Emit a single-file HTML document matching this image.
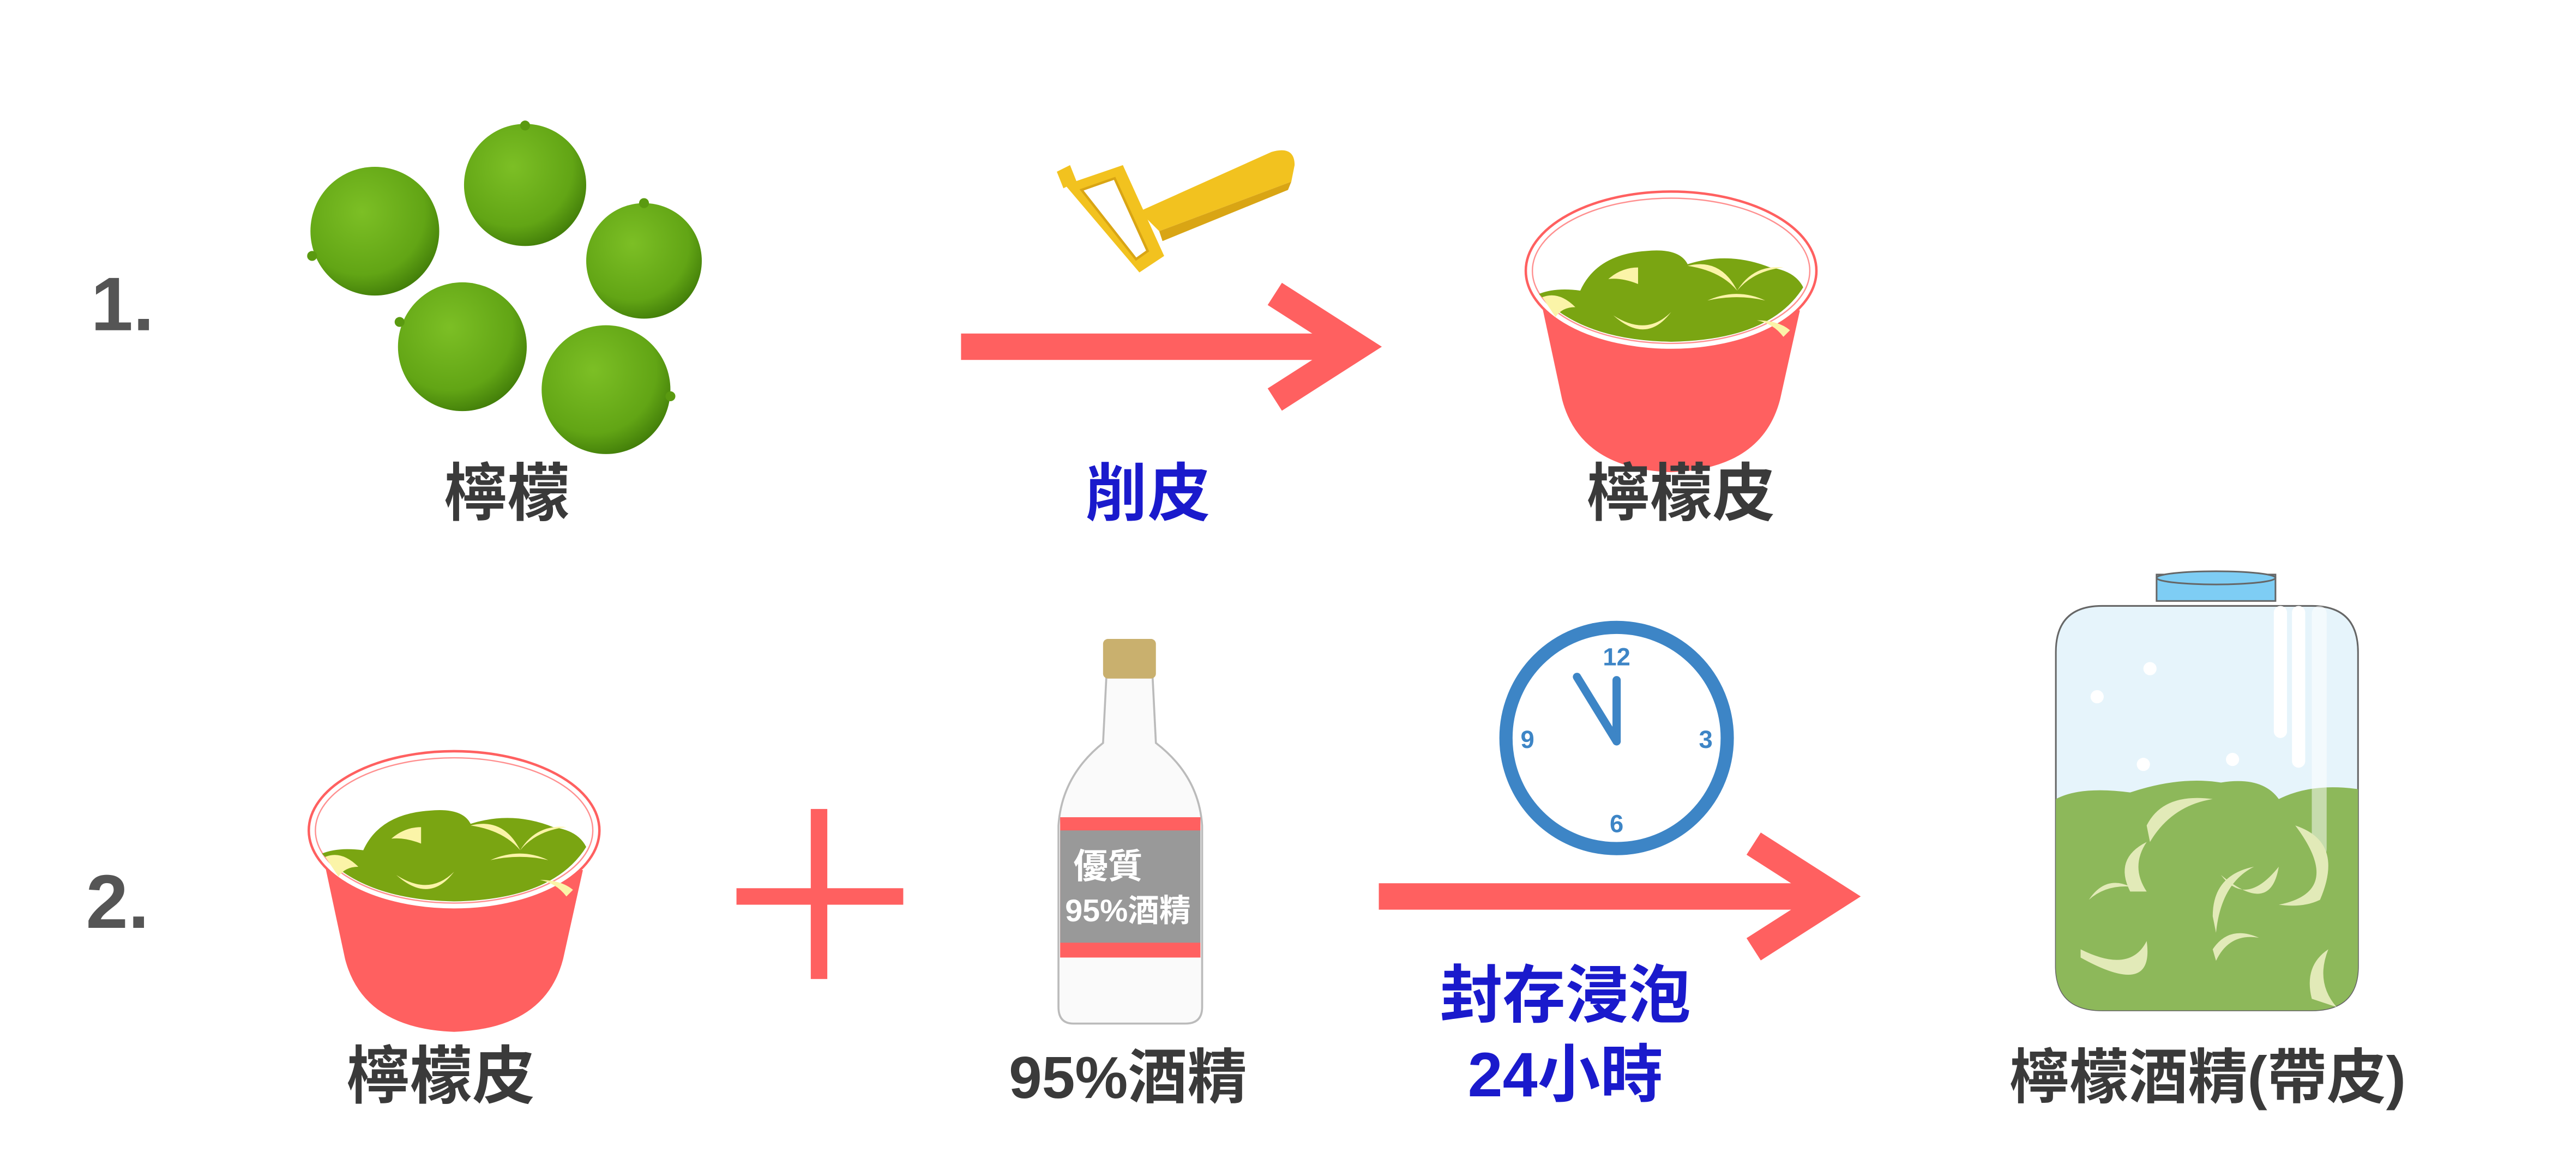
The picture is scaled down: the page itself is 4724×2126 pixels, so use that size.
<!DOCTYPE html>
<html><head><meta charset="utf-8"><style>
html,body{margin:0;padding:0;background:#fff}
svg{display:block}
text{font-family:"Liberation Sans","Noto Sans CJK TC",sans-serif;font-weight:bold}
</style></head><body>
<svg width="4724" height="2126" viewBox="0 0 1560 702" xmlns="http://www.w3.org/2000/svg">
<defs>
<radialGradient id="lime" cx="0.4" cy="0.35" r="0.7">
<stop offset="0" stop-color="#7cbf25"/><stop offset="0.7" stop-color="#62a515"/><stop offset="1" stop-color="#3f7a08"/>
</radialGradient>
<g id="bowl">
<path d="M-78 22 L-66 78 Q-55 120 0 122 Q55 120 66 78 L78 24 Z" fill="#ff6060"/>
<ellipse cx="0" cy="0" rx="88" ry="48" fill="#fff" stroke="#ff6060" stroke-width="1.5"/>
<ellipse cx="0" cy="0" rx="84" ry="44" fill="none" stroke="#ff9090" stroke-width="0.8"/>
<path d="M-80 14 Q-70 10 -55 12 Q-45 -10 -15 -12 Q5 -14 10 -4 Q35 -12 60 -2 Q75 0 80 10 Q60 42 0 43 Q-55 42 -80 14 Z" fill="#7aa512"/>
<path d="M-78 16 Q-68 12 -58 22 Q-66 22 -70 28 Z" fill="#fbf4a8"/>
<path d="M-38 5 Q-30 -2 -20 -2 L-20 8 Q-30 4 -38 5 Z" fill="#fbf4a8"/>
<path d="M10 -3 Q30 -8 40 12 Q30 0 10 -3 Z" fill="#fbf4a8"/>
<path d="M40 12 Q50 -4 68 -2 Q50 0 40 12 Z" fill="#fbf4a8"/>
<path d="M-35 27 Q-15 45 0 25 Q-15 40 -35 27 Z" fill="#fbf4a8"/>
<path d="M22 18 Q40 10 57 18 Q40 14 22 18 Z" fill="#fbf4a8"/>
<path d="M52 30 Q65 30 72 36 L68 40 Q62 32 52 30 Z" fill="#fbf4a8"/>
</g>
</defs>

<!-- Row 1 -->
<text x="55" y="200" font-size="46" fill="#555" font-weight="normal">1.</text>
<circle cx="227" cy="140" r="39" fill="url(#lime)"/><circle cx="189" cy="155" r="3" fill="#5a9a10"/>
<circle cx="318" cy="112" r="37" fill="url(#lime)"/><circle cx="318" cy="76" r="3" fill="#5a9a10"/>
<circle cx="390" cy="158" r="35" fill="url(#lime)"/><circle cx="390" cy="123" r="3" fill="#5a9a10"/>
<circle cx="280" cy="210" r="39" fill="url(#lime)"/><circle cx="242" cy="195" r="3" fill="#5a9a10"/>
<circle cx="367" cy="236" r="39" fill="url(#lime)"/><circle cx="406" cy="240" r="3" fill="#5a9a10"/>
<text x="307" y="312" font-size="38" fill="#3a3a3a" text-anchor="middle">檸檬</text>

<!-- peeler -->
<path d="M690 128 L770 92 Q784 88 784 100 L782 110 L702 140 Z" fill="#f2c21f"/>
<path d="M702 140 L782 110 L780 115 L704 146 Z" fill="#d9a514"/>
<path d="M645 112 L680 100 L705 155 L690 165 Z" fill="#f2c21f"/>
<path d="M655 115 L675 108 L695 152 L688 157 Z" fill="#fff" stroke="#d9a514" stroke-width="1.5"/>
<path d="M640 104 L648 100 L652 110 L644 114 Z" fill="#f2c21f"/>

<rect x="582" y="202" width="236" height="16" fill="#ff6060"/>
<polyline points="772,178 822,210 772,242" fill="none" stroke="#ff6060" stroke-width="16" stroke-linejoin="miter"/>
<text x="695" y="312" font-size="38" fill="#1a1acc" text-anchor="middle">削皮</text>

<use href="#bowl" x="1012" y="164"/>
<text x="1018" y="312" font-size="38" fill="#3a3a3a" text-anchor="middle">檸檬皮</text>

<!-- Row 2 -->
<text x="52" y="562" font-size="46" fill="#555" font-weight="normal">2.</text>
<use href="#bowl" x="275" y="503"/>
<text x="267" y="665" font-size="38" fill="#3a3a3a" text-anchor="middle">檸檬皮</text>

<rect x="446" y="538" width="101" height="10" fill="#ff6060"/>
<rect x="491" y="490" width="10" height="103" fill="#ff6060"/>

<!-- bottle -->
<path d="M670 410 L698 410 L700 450 Q726 470 728 500 L728 610 Q728 620 718 620 L650 620 Q641 620 641 610 L641 500 Q643 470 668 450 Z" fill="#fafafa" stroke="#bbb" stroke-width="1.2"/>
<rect x="668" y="387" width="32" height="24" rx="3" fill="#c9b06e"/>
<rect x="642" y="495" width="85" height="85" fill="#ff6060"/>
<rect x="642" y="503" width="85" height="68" fill="#999"/>
<text x="650" y="532" font-size="21" fill="#fff" font-weight="normal">優質</text>
<text x="645" y="558" font-size="19" fill="#fff" font-weight="normal">95%酒精</text>
<text x="683" y="665" font-size="36" fill="#3a3a3a" text-anchor="middle">95%酒精</text>

<!-- clock -->
<circle cx="979" cy="447" r="67" fill="#fff" stroke="#3d85c6" stroke-width="8"/>
<text x="979" y="403" font-size="15" fill="#3d85c6" text-anchor="middle" font-weight="normal">12</text>
<text x="1033" y="453" font-size="15" fill="#3d85c6" text-anchor="middle" font-weight="normal">3</text>
<text x="979" y="504" font-size="15" fill="#3d85c6" text-anchor="middle" font-weight="normal">6</text>
<text x="925" y="453" font-size="15" fill="#3d85c6" text-anchor="middle" font-weight="normal">9</text>
<line x1="979" y1="449" x2="979" y2="412" stroke="#3d85c6" stroke-width="5" stroke-linecap="round"/>
<line x1="979" y1="449" x2="955" y2="410" stroke="#3d85c6" stroke-width="5" stroke-linecap="round"/>

<rect x="835" y="535" width="276" height="16" fill="#ff6060"/>
<polyline points="1062,511 1112,543 1062,575" fill="none" stroke="#ff6060" stroke-width="16" stroke-linejoin="miter"/>
<text x="948" y="616" font-size="38" fill="#1a1acc" text-anchor="middle">封存浸泡</text>
<text x="948" y="664" font-size="38" fill="#1a1acc" text-anchor="middle">24小時</text>

<!-- jar -->
<rect x="1306" y="348" width="72" height="16" fill="#7ecdf4" stroke="#666" stroke-width="1"/>
<ellipse cx="1342" cy="350" rx="36" ry="4" fill="#7ecdf4" stroke="#666" stroke-width="1"/>
<path d="M1245 395 Q1245 367 1273 367 L1400 367 Q1428 367 1428 395 L1428 585 Q1428 612 1400 612 L1273 612 Q1245 612 1245 585 Z" fill="#e6f4fb" stroke="#666" stroke-width="1"/>
<path d="M1245 484 Q1260 476 1290 480 Q1320 470 1345 474 Q1370 470 1380 484 Q1400 474 1428 478 L1428 585 Q1428 612 1400 612 L1273 612 Q1245 612 1245 585 Z" fill="#8db85a"/>
<rect x="1377" y="367" width="8" height="80" rx="4" fill="#fff"/>
<rect x="1388" y="367" width="8" height="98" rx="4" fill="#fff"/>
<rect x="1400" y="367" width="9" height="152" rx="4.5" fill="#fff" opacity="0.5"/>
<circle cx="1270" cy="422" r="4" fill="#fff"/><circle cx="1302" cy="405" r="4" fill="#fff"/>
<circle cx="1298" cy="463" r="4" fill="#fff"/><circle cx="1352" cy="460" r="4" fill="#fff"/>
<g fill="#e2eab8">
<path d="M1300 500 Q1310 480 1340 484 Q1315 488 1302 510 Z"/>
<path d="M1290 540 Q1280 520 1300 510 Q1290 525 1300 540 Z"/>
<path d="M1345 530 Q1360 550 1380 525 Q1375 555 1345 530 Z"/>
<path d="M1390 500 Q1420 510 1405 545 Q1395 550 1380 548 Q1420 540 1390 500 Z"/>
<path d="M1260 575 Q1290 590 1300 570 Q1305 605 1260 580 Z"/>
<path d="M1340 575 Q1350 560 1368 568 Q1350 565 1342 582 Z"/>
<path d="M1400 605 Q1395 585 1410 575 Q1402 595 1415 610 Z"/>
<path d="M1265 545 Q1275 530 1290 537 Q1275 536 1265 545 Z"/>
<path d="M1340 555 Q1340 530 1365 525 Q1345 535 1342 565 Z"/>
</g>
<text x="1337" y="665" font-size="36" fill="#3a3a3a" text-anchor="middle">檸檬酒精(帶皮)</text>
</svg>
</body></html>
